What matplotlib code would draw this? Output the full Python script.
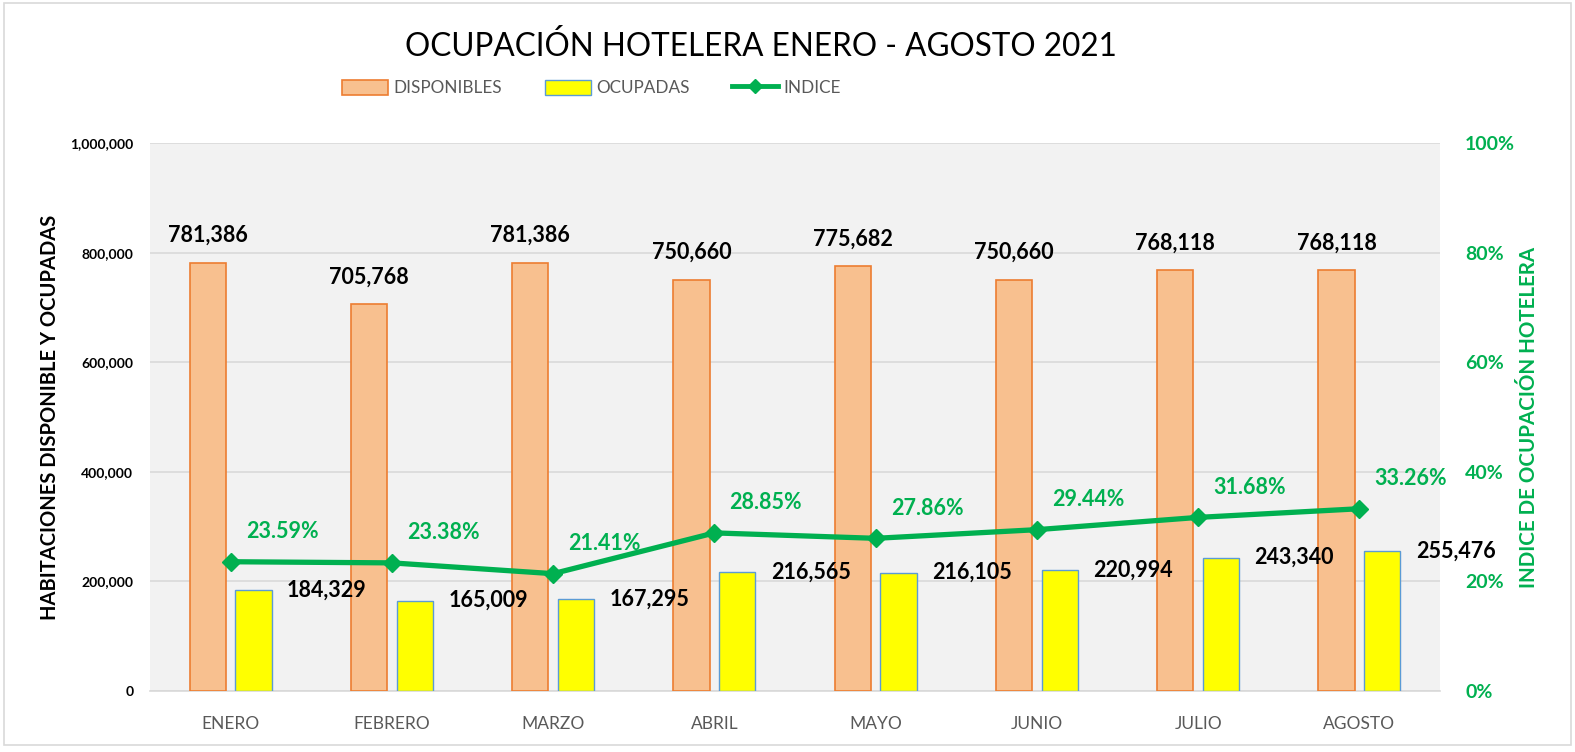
import numpy as np
import matplotlib
matplotlib.use("Agg")
import matplotlib.pyplot as plt
from matplotlib.patches import Patch, Rectangle
from matplotlib.lines import Line2D
from matplotlib.ticker import FuncFormatter

plt.rcParams['font.family'] = ['Lato', 'DejaVu Sans']

# Data
meses = ["ENERO", "FEBRERO", "MARZO", "ABRIL", "MAYO", "JUNIO", "JULIO", "AGOSTO"]
disponibles = [781386, 705768, 781386, 750660, 775682, 750660, 768118, 768118]
ocupadas = [184329, 165009, 167295, 216565, 216105, 220994, 243340, 255476]
indice = [23.59, 23.38, 21.41, 28.85, 27.86, 29.44, 31.68, 33.26]

# Colours
ORANGE_FILL = "#F8C08F"
ORANGE_EDGE = "#ED7D31"
YELLOW = "#FFFF00"
BLUE_EDGE = "#5B9BD5"
GREEN = "#00B050"
GRAY_TXT = "#595959"

fig = plt.figure(figsize=(15.75, 7.52), dpi=100)
ax = fig.add_axes([150 / 1575, 1 - 691 / 752, 1290 / 1575, 548 / 752])
ax.set_facecolor("#F2F2F2")

x = np.arange(len(meses))
w = 0.225
off = 0.142

ax.bar(x - off, disponibles, w, color=ORANGE_FILL, edgecolor=ORANGE_EDGE, linewidth=1.2, zorder=3)
ax.bar(x + off, ocupadas, w, color=YELLOW, edgecolor=BLUE_EDGE, linewidth=1.0, zorder=3)

ax.set_xlim(-0.5, len(meses) - 0.5)
ax.set_ylim(0, 1000000)
ax.set_yticks(np.arange(0, 1000001, 200000))
ax.yaxis.set_major_formatter(FuncFormatter(lambda v, p: f"{int(v):,}"))
ax.grid(axis="y", color="#D9D9D9", linewidth=1.2, zorder=0)
ax.set_axisbelow(True)
for s in ax.spines.values():
    s.set_visible(False)
ax.spines["bottom"].set_visible(True)
ax.spines["bottom"].set_color("#D9D9D9")
ax.spines["bottom"].set_linewidth(1.2)
ax.tick_params(axis="y", length=0, pad=12, labelsize=10)
for t in ax.get_yticklabels():
    t.set_fontweight("bold")
ax.set_xticks(x)
ax.set_xticklabels(meses, color=GRAY_TXT, fontsize=12.5)
ax.tick_params(axis="x", length=0, pad=18)
ax.set_ylabel("HABITACIONES DISPONIBLE Y OCUPADAS", fontsize=14.5, fontweight="bold", labelpad=7)

# data labels
for xi, v in zip(x, disponibles):
    ax.annotate(f"{v:,}", (xi - off, v), xytext=(0, 12), textcoords="offset points",
                ha="center", va="bottom", fontsize=15.5, fontweight="bold", zorder=5)
for xi, v in zip(x, ocupadas):
    ax.annotate(f"{v:,}", (xi + off + w / 2, v), xytext=(11, 0), textcoords="offset points",
                ha="left", va="center", fontsize=15.5, fontweight="bold", zorder=5)

# secondary axis
ax2 = ax.twinx()
ax2.set_ylim(0, 1.0)
ax2.plot(x, np.array(indice) / 100, color=GREEN, linewidth=3.8, marker="D", markersize=9, zorder=4)
ax2.set_yticks(np.arange(0, 1.01, 0.2))
ax2.yaxis.set_major_formatter(FuncFormatter(lambda v, p: f"{v * 100:.0f}%"))
ax2.tick_params(axis="y", length=0, pad=18, labelsize=14, labelcolor=GREEN)
for t in ax2.get_yticklabels():
    t.set_fontweight("bold")
for s in ax2.spines.values():
    s.set_visible(False)
ax2.set_ylabel("INDICE DE OCUPACIÓN HOTELERA", fontsize=14.8, fontweight="bold", color=GREEN, labelpad=3)
for xi, v in zip(x, indice):
    ax2.annotate(f"{v:.2f}%", (xi, v / 100), xytext=(37, 14), textcoords="offset points",
                 ha="center", va="bottom", fontsize=15.5, fontweight="bold", color=GREEN, zorder=5)

# title & legend
fig.text(0.483, 0.938, "OCUPACIÓN HOTELERA ENERO - AGOSTO 2021", ha="center", va="center", fontsize=22.7)
handles = [
    Patch(facecolor=ORANGE_FILL, edgecolor=ORANGE_EDGE, linewidth=1.2),
    Patch(facecolor=YELLOW, edgecolor=BLUE_EDGE, linewidth=1.0),
    Line2D([0], [0], color=GREEN, linewidth=3.5, marker="D", markersize=7),
]
fig.legend(handles, ["DISPONIBLES", "OCUPADAS", "INDICE"], loc="center", bbox_to_anchor=(0.3755, 0.883),
           ncol=3, frameon=False, fontsize=12.3, handlelength=2.7, handleheight=1.0,
           handletextpad=0.3, columnspacing=2.5, labelcolor=GRAY_TXT)

# outer border
fig.patches.append(Rectangle((4 / 1575, 7 / 752), 1567 / 1575, 742 / 752, transform=fig.transFigure,
                             fill=False, edgecolor="#D9D9D9", linewidth=1.2))

fig.savefig("out.png", dpi=100)
